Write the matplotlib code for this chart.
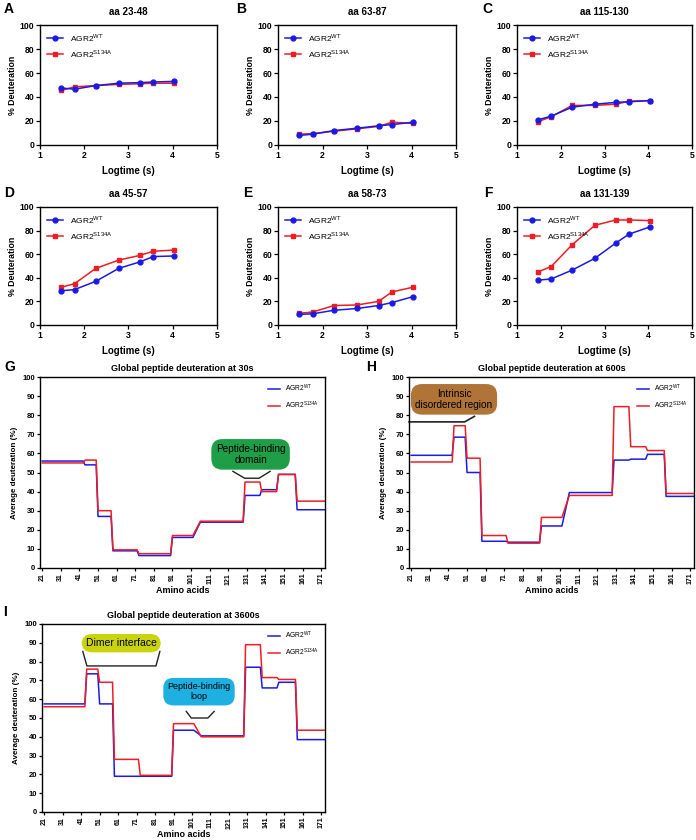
import numpy as np
import matplotlib
matplotlib.use("Agg")
import matplotlib.pyplot as plt

plt.rcParams['font.family'] = ['Liberation Sans', 'DejaVu Sans']

W, H = 696, 840
BLUE = '#1a1ae6'
RED = '#ee1c24'

# ---- kinetics panels A-F (x = log10 of exchange time) ----
logtime = [1.48, 1.78, 2.26, 2.78, 3.26, 3.56, 4.03]

kin_titles = ["aa 23-48", "aa 63-87", "aa 115-130", "aa 45-57", "aa 58-73", "aa 131-139"]
kin_letters = ["A", "B", "C", "D", "E", "F"]
kin_wt = [
    [47.5, 46.5, 49.5, 51.5, 52, 52.5, 53],
    [8, 9, 12, 14, 16, 17, 19],
    [21, 24, 31.5, 34, 35.5, 36, 37],
    [29, 30, 37, 48, 53.5, 58, 58.5],
    [9, 9.5, 12.5, 14, 16.5, 19, 24],
    [38, 39, 46.5, 56.5, 69.5, 77, 83],
]
kin_mut = [
    [45.5, 48.5, 49.5, 50.5, 51, 51.5, 51.5],
    [9, 9.5, 11.5, 13.5, 15.5, 19, 18],
    [19.5, 23.5, 33, 33, 34, 36.5, 37],
    [32, 35, 48, 55, 59, 62.5, 63.5],
    [10, 11, 16.5, 17, 20, 28, 32],
    [45, 49.5, 68, 84.5, 89, 89, 88.5],
]

# ---- global deuteration panels G-I (segments along sequence) ----
seg_start = [21, 44, 51, 59, 73, 91, 106, 130, 139, 148, 158]
seg_end = [43, 50, 58, 72, 90, 102, 129, 138, 147, 157, 173]

glob_titles = ["Global peptide deuteration at 30s",
               "Global peptide deuteration at 600s",
               "Global peptide deuteration at 3600s"]
glob_letters = ["G", "H", "I"]
glob_wt = [
    [56, 54, 27, 9, 6.5, 16, 24, 38, 41, 49, 30.5],
    [59, 68.5, 50, 14, 13.5, 22, 39.5, 56.5, 57, 59.5, 37.5],
    [57.5, 73.5, 57.5, 19, 19, 43.5, 40.5, 77, 66, 69, 38.5],
]
glob_mut = [
    [55, 56.5, 30, 9.5, 7.5, 17, 24.5, 45, 40, 49, 35],
    [55.5, 74.5, 57.5, 17, 13, 26.5, 38, 84.5, 63.5, 61.5, 39],
    [56, 76, 69, 28, 19.5, 47, 40, 89, 71.5, 70.5, 43.5],
]
aa_ticks = list(range(21, 172, 10))

fig = plt.figure(figsize=(W / 100, H / 100), dpi=100)


def px_axes(l, t, r, b):
    return fig.add_axes([l / W, 1 - b / H, (r - l) / W, (b - t) / H])


def letter(x, y, s):
    fig.text(x / W, 1 - y / H, s, fontsize=10, fontweight='bold', va='center', ha='left')


def seg_line(vals):
    xs = np.ravel(np.column_stack([seg_start, seg_end]))
    ys = np.repeat(vals, 2)
    return xs, ys


kin_rects = [(40, 25, 217, 145), (278, 25, 456, 145), (517, 25, 692, 145),
             (40, 207, 217, 325), (278, 207, 456, 325), (517, 207, 692, 325)]
kin_letter_pos = [(4, 9), (236, 9), (482, 9), (4, 193), (243, 193), (484, 193)]

for i in range(6):
    ax = px_axes(*kin_rects[i])
    ax.plot(logtime, kin_wt[i], color=BLUE, marker='o', ms=3.5, lw=1.1,
            label='AGR2$^{\\mathregular{WT}}$', zorder=3)
    ax.plot(logtime, kin_mut[i], color=RED, marker='s', ms=3.5, lw=1.1,
            label='AGR2$^{\\mathregular{S134A}}$', zorder=2)
    ax.set_xlim(1, 5)
    ax.set_ylim(0, 100)
    ax.set_xticks([1, 2, 3, 4, 5])
    ax.set_yticks([0, 20, 40, 60, 80, 100])
    ax.tick_params(labelsize=6.2, length=3, width=0.9, pad=1)
    for lab in ax.get_xticklabels() + ax.get_yticklabels():
        lab.set_fontweight('bold')
    for sp in ax.spines.values():
        sp.set_linewidth(1)
    ax.set_title(kin_titles[i], fontsize=7, fontweight='bold', pad=7)
    ax.set_ylabel('% Deuteration', fontsize=6.3, fontweight='bold', labelpad=2)
    ax.set_xlabel('Logtime (s)', fontsize=7, fontweight='bold', labelpad=5)
    ax.legend(loc='upper left', frameon=False, fontsize=6, handlelength=2,
              borderaxespad=0.4, labelspacing=0.5)
    letter(*kin_letter_pos[i], kin_letters[i])

glob_rects = [(40, 377, 325, 568), (409, 377, 694, 568), (42, 624, 325, 812)]
glob_letter_pos = [(4, 367), (366, 367), (3, 612)]
glob_axes = []

for i in range(3):
    ax = px_axes(*glob_rects[i])
    xs, ys = seg_line(glob_wt[i])
    ax.plot(xs, ys, color=BLUE, lw=1.1, label='AGR2$^{\\mathregular{WT}}$')
    xs, ys = seg_line(glob_mut[i])
    ax.plot(xs, ys, color=RED, lw=1.1, label='AGR2$^{\\mathregular{S134A}}$')
    ax.set_xlim(19.8, 173)
    ax.set_ylim(0, 100)
    ax.set_xticks(aa_ticks)
    ax.set_yticks(range(0, 101, 10))
    ax.tick_params(axis='y', labelsize=5.5, length=2.5, width=0.9, pad=1)
    ax.tick_params(axis='x', labelsize=5, length=2.5, width=0.9, pad=1, labelrotation=90)
    for lab in ax.get_xticklabels() + ax.get_yticklabels():
        lab.set_fontweight('bold')
    for sp in ax.spines.values():
        sp.set_linewidth(1)
    ax.set_title(glob_titles[i], fontsize=6.5, fontweight='bold', pad=4)
    ax.set_ylabel('Average deuteration (%)', fontsize=5.8, fontweight='bold', labelpad=3)
    ax.set_xlabel('Amino acids', fontsize=6.5, fontweight='bold', labelpad=1)
    ax.legend(loc='upper right', frameon=False, fontsize=4.8, handlelength=1.8,
              borderaxespad=0.5, labelspacing=0.8)
    letter(*glob_letter_pos[i], glob_letters[i])
    glob_axes.append(ax)

# ---- annotations ----
axg, axh, axi = glob_axes

axg.text(133, 59.5, 'Peptide-binding\ndomain', fontsize=7.2, ha='center', va='center',
         linespacing=1.2,
         bbox=dict(boxstyle='round,pad=0.45,rounding_size=1.1', fc='#1f9e48', ec='none'))
axg.plot([123.5, 129.8, 137.5, 143.5], [50.6, 47, 47, 50.6], color='#222222', lw=1)

axh.text(44, 88.3, 'Intrinsic\ndisordered region', fontsize=7.2, ha='center', va='center',
         linespacing=1.2,
         bbox=dict(boxstyle='round,pad=0.45,rounding_size=1.1', fc='#b07436', ec='none'))
axh.plot([19.8, 49.7, 55], [76.5, 76.5, 79.4], color='#222222', lw=1.2, clip_on=False)

axi.text(62.7, 89.8, 'Dimer interface', fontsize=7.5, ha='center', va='center',
         bbox=dict(boxstyle='round,pad=0.4,rounding_size=1.0', fc='#c9d30e', ec='none'))
axi.plot([41.9, 44.1, 81.5, 83.6], [85.4, 77.7, 77.7, 85.4], color='#222222', lw=1)

axi.text(104.8, 64, 'Peptide-binding\nloop', fontsize=6.5, ha='center', va='center',
         linespacing=1.2,
         bbox=dict(boxstyle='round,pad=0.45,rounding_size=1.1', fc='#1fb0e2', ec='none'))
axi.plot([97.9, 100.6, 109.6, 113], [53.5, 50, 50, 53.5], color='#222222', lw=1)

fig.savefig('out.png', dpi=100)
